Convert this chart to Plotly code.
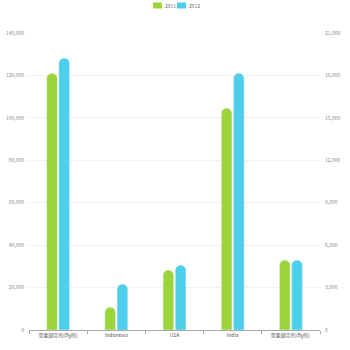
import plotly.graph_objects as go

categories = ["需要绑定的(By的)", "Indonesia", "USA", "India", "需要绑定的(By的) "]
series_names = ["2011", "2012"]
series_2011 = [121000, 10800, 28300, 104600, 33000]
series_2012 = [128200, 21700, 30600, 121100, 33000]
left_ticks = [0, 20000, 40000, 60000, 80000, 100000, 120000, 140000]
right_ticks = [0, 3000, 6000, 9000, 12000, 15000, 18000, 21000]
colors = ["#9bd53a", "#4ccfea"]

fig = go.Figure()
for name, vals, c in zip(series_names, [series_2011, series_2012], colors):
    fig.add_trace(go.Bar(name=name, x=categories, y=vals,
                         marker=dict(color=c, cornerradius="50%"), yaxis="y",
                         showlegend=False))
fig.add_trace(go.Scatter(x=categories, y=[None]*5, yaxis="y2", showlegend=False,
                         hoverinfo="skip"))

# compact legend drawn at top
legend_x = [153, 177]
for lx, name, c in zip(legend_x, series_names, colors):
    fig.add_shape(type="rect", xref="paper", yref="paper",
                  x0=(lx - 29) / 291, x1=(lx + 9 - 29) / 291,
                  y0=(330 - 8.5) / 297, y1=(330 - 2.5) / 297,
                  fillcolor=c, line_width=0)
    fig.add_annotation(xref="paper", yref="paper", x=(lx + 11 - 29) / 291,
                       y=(330 - 5.5) / 297, text=name, showarrow=False,
                       xanchor="left", yanchor="middle", borderpad=0,
                       font=dict(size=5, color="#666"))

font = dict(family="Noto Sans CJK SC, Noto Sans, sans-serif", size=6, color="#777")
fig.update_layout(
    width=350, height=350,
    margin=dict(l=29, r=30, t=33, b=20, autoexpand=False),
    paper_bgcolor="white", plot_bgcolor="white",
    barmode="group", bargap=0.58, bargroupgap=0.13,
    font=font, showlegend=False,
    xaxis=dict(showline=True, linecolor="#aaa", linewidth=1, ticks="outside",
               tickson="boundaries", ticklen=3, tickcolor="#aaa", tickangle=0,
               automargin=False,
               tickfont=dict(size=5, color="#555"), showgrid=False),
    yaxis=dict(range=[0, 140000], tickvals=left_ticks, tickformat=",",
               showgrid=True, gridcolor="#f0f0f3", zeroline=False, automargin=False,
               showline=False, tickfont=dict(size=5, color="#888"),
               ticks="", ticklabelstandoff=4),
    yaxis2=dict(range=[0, 21000], tickvals=right_ticks, tickformat=",",
                overlaying="y", side="right", showgrid=False, zeroline=False,
                automargin=False,
                showline=False, tickfont=dict(size=5, color="#888"),
                ticklabelstandoff=4),
)
fig.write_html("out.html")
